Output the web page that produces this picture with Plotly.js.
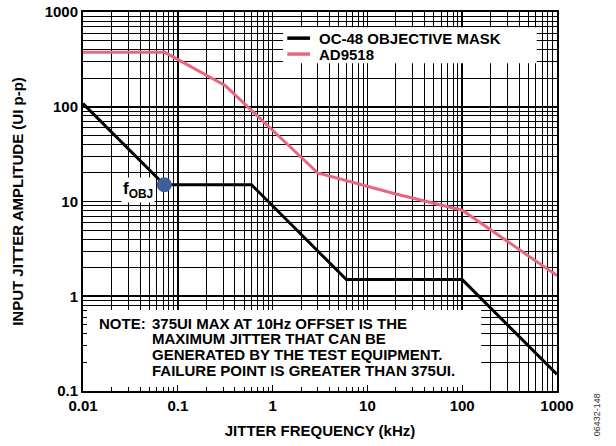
<!DOCTYPE html>
<html>
<head>
<meta charset="utf-8">
<script src="https://cdn.plot.ly/plotly-3.0.1.min.js"></script>
<style>
html,body{margin:0;padding:0;background:#fff;}
#chart{width:616px;height:446px;}
</style>
</head>
<body>
<div id="chart"></div>
<script>
// ---- data ----
const seriesNames = ["OC-48 OBJECTIVE MASK", "AD9518"];
const maskFreq = [0.01, 0.072, 0.6, 6, 100, 1000];
const maskAmp  = [108, 15, 15, 1.5, 1.5, 0.15];
const adFreq   = [0.01, 0.073, 0.315, 3.0, 20, 100, 1000];
const adAmp    = [375, 375, 168, 20, 12, 8.1, 1.65];
const fobjFreq = [0.072];
const fobjAmp  = [15];
const fobjLabel = "f<sub>OBJ</sub>";
const xTickVals = [0.01, 0.1, 1, 10, 100, 1000];
const xTickText = ["0.01", "0.1", "1", "10", "100", "1000"];
const yTickVals = [0.1, 1, 10, 100, 1000];
const yTickText = ["0.1", "1", "10", "100", "1000"];
const noteHead = "NOTE:";
const noteLines = [
  "375UI MAX AT 10Hz OFFSET IS THE",
  "MAXIMUM JITTER THAT CAN BE",
  "GENERATED BY THE TEST EQUIPMENT.",
  "FAILURE POINT IS GREATER THAN 375UI."
];
const xTitle = "JITTER FREQUENCY (kHz)";
const yTitle = "INPUT JITTER AMPLITUDE (UI p-p)";
const sideCode = "06432-148";

// ---- styles ----
const BLACK = "#000000", PINK = "#e9677e", BLUE = "#3d5f9e";
const FONT = "Liberation Sans, Arial, sans-serif";
const colors = [BLACK, PINK];
const X_RANGE = [-2, 3], Y_RANGE = [-1, 3];

// convert paper fractions to log-axis data values (for white panel backgrounds)
const px = f => Math.pow(10, X_RANGE[0] + (X_RANGE[1] - X_RANGE[0]) * f);
const py = f => Math.pow(10, Y_RANGE[0] + (Y_RANGE[1] - Y_RANGE[0]) * f);
function panel(fx0, fx1, fy0, fy1) {
  return {x: [px(fx0), px(fx1), px(fx1), px(fx0), px(fx0)],
          y: [py(fy0), py(fy0), py(fy1), py(fy1), py(fy0)],
          type: "scatter", mode: "lines", fill: "toself", fillcolor: "#ffffff",
          line: {width: 0, color: "rgba(0,0,0,0)"}, hoverinfo: "skip", showlegend: false};
}

const legX = 0.422, legTop = 0.96, legBottom = 0.865, legRight = 0.957;

const traces = [
  panel(legX, legRight, legBottom, legTop),
  panel(0, 0.84, 0, 0.214),
  {x: maskFreq, y: maskAmp, type: "scatter", mode: "lines", name: seriesNames[0],
   line: {color: BLACK, width: 3}, showlegend: false},
  {x: adFreq, y: adAmp, type: "scatter", mode: "lines", name: seriesNames[1],
   line: {color: PINK, width: 3}, showlegend: false},
  {x: fobjFreq, y: fobjAmp, type: "scatter", mode: "markers",
   marker: {color: BLUE, size: 15}, showlegend: false}
];

const axisCommon = {
  type: "log", showline: true, linecolor: BLACK, linewidth: 2, mirror: "allticks",
  showgrid: true, gridcolor: BLACK, gridwidth: 1.6,
  ticks: "inside", ticklen: 6, tickcolor: BLACK, tickwidth: 1,
  tickmode: "array", zeroline: false,
  tickfont: {family: FONT, size: 15, color: BLACK, weight: 700},
  minor: {dtick: "D1", showgrid: true, gridcolor: BLACK, gridwidth: 1,
          ticks: "inside", ticklen: 4, tickcolor: BLACK},
  fixedrange: true
};

const shapes = [];
const annotations = [];
seriesNames.forEach((nm, i) => {
  const yy = 0.931 - i * 0.042;
  shapes.push({type: "line", xref: "paper", yref: "paper", x0: legX + 0.009, x1: legX + 0.057,
               y0: yy, y1: yy, line: {color: colors[i], width: 3.5}, layer: "above"});
  annotations.push({xref: "paper", yref: "paper", x: legX + 0.072, y: yy, xanchor: "left", yanchor: "middle",
                    text: nm, showarrow: false, font: {family: FONT, size: 15, color: BLACK, weight: 700}});
});
annotations.push({xref: "paper", yref: "paper", x: 0.029, y: 0.179, xanchor: "left", yanchor: "middle",
                  text: noteHead, showarrow: false, font: {family: FONT, size: 15, color: BLACK, weight: 700}});
noteLines.forEach((t, i) => {
  annotations.push({xref: "paper", yref: "paper", x: 0.141, y: 0.179 - i * 0.0415, xanchor: "left", yanchor: "middle",
                    text: t, showarrow: false, font: {family: FONT, size: 15, color: BLACK, weight: 700}});
});
annotations.push({x: Math.log10(fobjFreq[0]), y: Math.log10(fobjAmp[0]), xref: "x", yref: "y",
                  text: fobjLabel, showarrow: false, xanchor: "right", yanchor: "middle",
                  xshift: -9, yshift: -5, bgcolor: "#ffffff", borderpad: 1,
                  font: {family: FONT, size: 17, color: BLACK, weight: 700}});
annotations.push({xref: "paper", yref: "paper", x: 1.085, y: -0.063, xanchor: "center", yanchor: "middle",
                  text: sideCode, textangle: -90, showarrow: false,
                  font: {family: FONT, size: 9, color: "#333333", weight: 400}});

const layout = {
  width: 616, height: 446,
  margin: {l: 83, r: 59, t: 12, b: 55, pad: 0},
  paper_bgcolor: "#ffffff", plot_bgcolor: "#ffffff",
  font: {family: FONT, size: 15, color: BLACK, weight: 700},
  showlegend: false,
  xaxis: Object.assign({}, axisCommon, {
    range: X_RANGE, tickvals: xTickVals, ticktext: xTickText,
    title: {text: xTitle, font: {family: FONT, size: 15, color: BLACK, weight: 700}, standoff: 12}
  }),
  yaxis: Object.assign({}, axisCommon, {
    range: Y_RANGE, tickvals: yTickVals, ticktext: yTickText,
    title: {text: yTitle, font: {family: FONT, size: 15, color: BLACK, weight: 700}, standoff: 17}
  }),
  shapes: shapes,
  annotations: annotations
};

Plotly.newPlot("chart", traces, layout, {displayModeBar: false, staticPlot: true});
</script>
</body>
</html>
